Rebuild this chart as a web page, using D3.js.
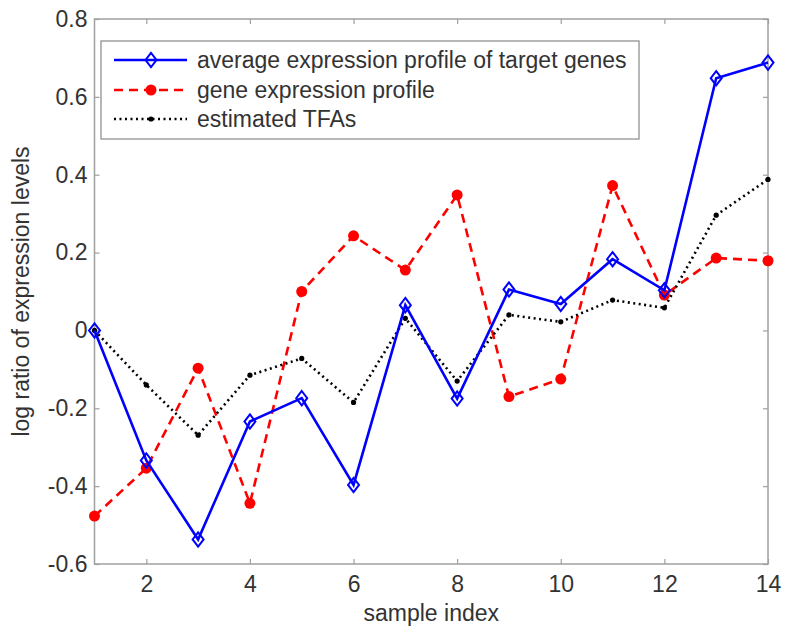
<!DOCTYPE html>
<html><head><meta charset="utf-8">
<script src="https://cdn.jsdelivr.net/npm/d3@7"></script>
<style>body{margin:0;background:#fff}svg{display:block}</style>
</head><body>
<svg id="c" width="785" height="639"></svg>
<script>
const samples = [1,2,3,4,5,6,7,8,9,10,11,12,13,14];
const avgTarget = [0.0,-0.334,-0.537,-0.234,-0.174,-0.397,0.065,-0.175,0.105,0.068,0.183,0.103,0.648,0.688];
const geneProfile = [-0.477,-0.354,-0.097,-0.444,0.1,0.243,0.155,0.348,-0.17,-0.125,0.372,0.091,0.186,0.179];
const estTFA = [0.0,-0.14,-0.269,-0.115,-0.072,-0.185,0.031,-0.13,0.04,0.022,0.078,0.058,0.296,0.388];
const xTicks = [2,4,6,8,10,12,14];
const yTicks = [-0.6,-0.4,-0.2,0,0.2,0.4,0.6,0.8];
const yTickLabels = ["-0.6","-0.4","-0.2","0","0.2","0.4","0.6","0.8"];
const seriesNames = ["average expression profile of target genes","gene expression profile","estimated TFAs"];

const svg = d3.select("#c");
const L=94.5, R=768, T=19, B=564;
const x = d3.scaleLinear().domain([1,14]).range([L,R]);
const y = d3.scaleLinear().domain([-0.6,0.8]).range([B,T]);
const axisCol="#a0a0a0", textCol="#333", font="'Liberation Sans', Arial, sans-serif", fs=23;

svg.append("rect").attr("x",L).attr("y",T).attr("width",R-L).attr("height",B-T)
  .attr("fill","none").attr("stroke",axisCol).attr("stroke-width",1.5);

const tl=5;
const gx = svg.append("g").attr("transform",`translate(0,${B})`)
  .call(d3.axisBottom(x).tickValues(xTicks).tickSize(-tl).tickPadding(12).tickFormat(d3.format("d")));
const gxt = svg.append("g").attr("transform",`translate(0,${T})`)
  .call(d3.axisTop(x).tickValues(xTicks).tickSize(-tl).tickFormat(""));
const gy = svg.append("g").attr("transform",`translate(${L},0)`)
  .call(d3.axisLeft(y).tickValues(yTicks).tickSize(-tl).tickPadding(7).tickFormat((d,i)=>yTickLabels[i]));
const gyr = svg.append("g").attr("transform",`translate(${R},0)`)
  .call(d3.axisRight(y).tickValues(yTicks).tickSize(-tl).tickFormat(""));
[gx,gxt,gy,gyr].forEach(g=>{
  g.select(".domain").remove();
  g.selectAll(".tick line").attr("stroke",axisCol).attr("stroke-width",1.2);
  g.selectAll(".tick text").attr("fill",textCol).attr("font-family",font).attr("font-size",fs);
});

svg.append("text").attr("x",(L+R)/2).attr("y",621).attr("text-anchor","middle")
  .attr("font-family",font).attr("font-size",fs).attr("fill",textCol).text("sample index");
svg.append("text").attr("transform",`translate(29,${(T+B)/2}) rotate(-90)`).attr("text-anchor","middle")
  .attr("font-family",font).attr("font-size",fs).attr("fill",textCol).text("log ratio of expression levels");

const line = d3.line().x((d,i)=>x(samples[i])).y(d=>y(d));
const series = [
  {vals:avgTarget, color:"#0000ff", dash:null, marker:"diamond"},
  {vals:geneProfile, color:"#ff0000", dash:"9,6", marker:"circle"},
  {vals:estTFA, color:"#000000", dash:"2,3.5", marker:"dot"}
];
const diamond = (cx,cy,s)=>`M${cx},${cy-s*1.3}L${cx+s},${cy}L${cx},${cy+s*1.3}L${cx-s},${cy}Z`;
function drawMarker(g,s,cx,cy){
  if(s.marker==="diamond") g.append("path").attr("d",diamond(cx,cy,5.5)).attr("fill","none").attr("stroke",s.color).attr("stroke-width",2);
  else if(s.marker==="circle") g.append("circle").attr("cx",cx).attr("cy",cy).attr("r",5.5).attr("fill",s.color);
  else g.append("circle").attr("cx",cx).attr("cy",cy).attr("r",2.6).attr("fill",s.color);
}
[series[1],series[2],series[0]].forEach(s=>{
  const g=svg.append("g");
  g.append("path").attr("d",line(s.vals)).attr("fill","none").attr("stroke",s.color)
    .attr("stroke-width",2.6).attr("stroke-dasharray",s.dash);
  s.vals.forEach((v,i)=>drawMarker(g,s,x(samples[i]),y(v)));
});

const lg = svg.append("g");
lg.append("rect").attr("x",101).attr("y",41).attr("width",538).attr("height",98)
  .attr("fill","#fff").attr("stroke",axisCol).attr("stroke-width",1.5);
const rowsY=[60,90,119];
series.forEach((s,i)=>{
  lg.append("line").attr("x1",114).attr("x2",187).attr("y1",rowsY[i]).attr("y2",rowsY[i])
    .attr("stroke",s.color).attr("stroke-width",2.6).attr("stroke-dasharray",s.dash);
  drawMarker(lg,s,151,rowsY[i]);
  lg.append("text").attr("x",197).attr("y",rowsY[i]+8).attr("font-family",font).attr("font-size",fs)
    .attr("fill",textCol).text(seriesNames[i]);
});
</script>
</body></html>
